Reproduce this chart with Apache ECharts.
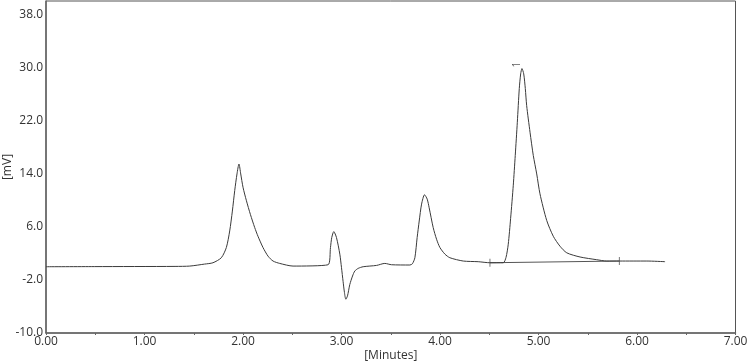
<!DOCTYPE html>
<html>
<head>
<meta charset="utf-8">
<script src="https://cdn.jsdelivr.net/npm/echarts@6/dist/echarts.min.js"></script>
<style>
  html, body { margin: 0; padding: 0; background: #fff; }
  #chart { width: 748px; height: 364px; }
</style>
</head>
<body>
<div id="chart"></div>
<script>
// retention time (min) and detector signal (mV)
var times = [
  0.00, 0.49, 1.31, 1.46, 1.61, 1.695, 1.78, 1.831, 1.865, 1.892, 1.916, 1.939, 1.959,
  1.977, 2.00, 2.035, 2.075, 2.119, 2.152, 2.203, 2.254, 2.305, 2.373, 2.508, 2.864,
  2.888, 2.901, 2.922, 2.949, 2.983, 3.00, 3.016, 3.03, 3.044, 3.061, 3.084, 3.112,
  3.135, 3.169, 3.22, 3.356, 3.44, 3.508, 3.694, 3.72, 3.745, 3.768, 3.789, 3.813,
  3.843, 3.87, 3.89, 3.931, 3.965, 3.999, 4.05, 4.10, 4.236, 4.388, 4.507, 4.642,
  4.67, 4.693, 4.717, 4.744, 4.764, 4.785, 4.805, 4.819, 4.832, 4.85, 4.866, 4.88,
  4.914, 4.947, 4.982, 5.015, 5.083, 5.15, 5.218, 5.287, 5.422, 5.591, 5.693, 5.821,
  6.10, 6.285
];
var signal = [
  0.00, 0.02, 0.05, 0.10, 0.40, 0.60, 1.36, 2.90, 5.40, 8.40, 11.5, 14.0, 15.5,
  14.0, 12.0, 9.95, 7.90, 5.90, 4.60, 2.90, 1.60, 0.86, 0.50, 0.10, 0.30,
  2.90, 4.40, 5.30, 4.40, 1.90, -0.15, -2.20, -3.90, -4.90, -4.40, -2.70, -1.40,
  -0.65, -0.25, 0.00, 0.20, 0.50, 0.30, 0.26, 0.45, 1.36, 4.40, 6.90, 9.45,
  10.86, 10.2, 8.90, 5.90, 4.15, 2.90, 1.90, 1.36, 0.86, 0.76, 0.60, 0.60,
  1.40, 3.40, 7.30, 12.3, 16.8, 21.8, 26.9, 29.1, 29.9, 29.1, 26.9, 24.3,
  20.3, 16.8, 14.0, 11.0, 7.00, 4.60, 3.10, 2.10, 1.47, 1.06, 0.86, 0.86,
  0.86, 0.76
];
// integration baseline of peak 1
var baseTimes = [4.507, 5.821];
var baseValues = [0.60, 0.86];
// peak labels
var peakNames = ['1'];
var peakTimes = [4.832];
var peakHeights = [29.9];

var xTicks = [0, 1, 2, 3, 4, 5, 6, 7];
var yTicks = [-10, -2, 6, 14, 22, 30, 38];

var chart = echarts.init(document.getElementById('chart'));
var font = 'Open Sans, Noto Sans, sans-serif';

chart.setOption({
  animation: false,
  grid: {
    left: 46, right: 12.5, top: 1, bottom: 31,
    outerBoundsMode: 'none',
    containLabel: false,
    show: true, borderColor: '#555', borderWidth: 1
  },
  xAxis: {
    type: 'value',
    min: 0, max: 7, interval: 0.5,
    name: '[Minutes]',
    nameLocation: 'middle',
    nameGap: 17,
    nameMoveOverlap: false,
    nameTextStyle: { color: '#333', fontSize: 12, fontFamily: font },
    axisLine: { onZero: false, lineStyle: { color: '#666', width: 1.5 } },
    axisTick: { show: true, length: 2, lineStyle: { color: '#666' } },
    axisLabel: {
      color: '#333', fontSize: 12, fontFamily: font, margin: 3,
      formatter: function (v) {
        return xTicks.indexOf(v) >= 0 ? v.toFixed(2) : '';
      }
    },
    splitLine: { show: false }
  },
  yAxis: {
    type: 'value',
    min: -10, max: 40.1, interval: 8,
    name: '[mV]',
    nameLocation: 'middle',
    nameGap: 32,
    nameMoveOverlap: false,
    nameTextStyle: { color: '#333', fontSize: 12, fontFamily: font },
    axisLine: { show: true, onZero: false, lineStyle: { color: '#666', width: 1.5 } },
    axisTick: { show: false },
    axisLabel: {
      color: '#333', fontSize: 12, fontFamily: font, margin: 3,
      showMaxLabel: false,
      formatter: function (v) {
        return yTicks.indexOf(v) >= 0 ? v.toFixed(1) : '';
      }
    },
    splitLine: { show: false }
  },
  series: [
    {
      type: 'line',
      data: times.map(function (t, i) { return [t, signal[i]]; }),
      symbol: 'none',
      smooth: 0.25,
      lineStyle: { color: '#3a3a3a', width: 1 },
      z: 3
    },
    {
      type: 'line',
      data: baseTimes.map(function (t, i) { return [t, baseValues[i]]; }),
      symbol: 'none',
      lineStyle: { color: '#555', width: 1 },
      z: 2
    },
    {
      type: 'scatter',
      data: baseTimes.map(function (t, i) { return [t, baseValues[i]]; }),
      symbol: 'rect',
      symbolSize: [1, 8],
      itemStyle: { color: '#555' },
      z: 2
    },
    {
      type: 'scatter',
      data: peakTimes.map(function (t, i) { return { value: [t, peakHeights[i]], name: peakNames[i] }; }),
      symbolSize: 0,
      label: {
        show: true,
        position: 'top',
        distance: 4,
        rotate: 90,
        formatter: '{b}',
        color: '#333',
        fontSize: 10,
        fontFamily: font
      },
      z: 4
    }
  ]
});
</script>
</body>
</html>
